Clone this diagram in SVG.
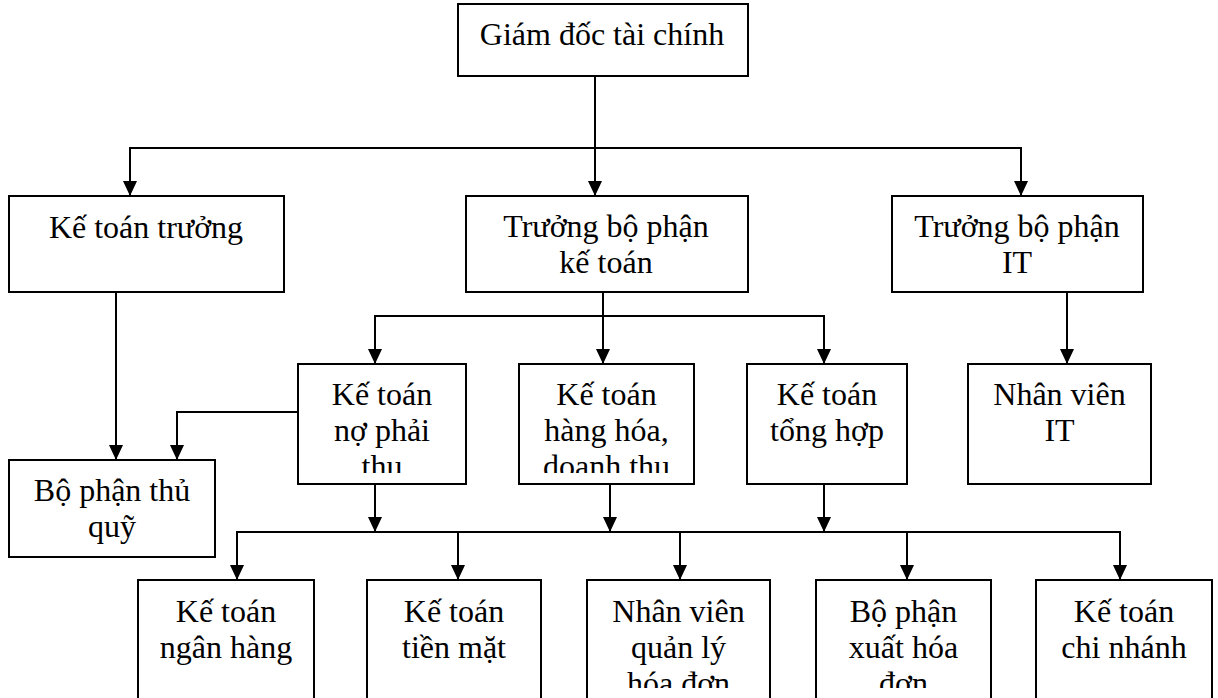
<svg xmlns="http://www.w3.org/2000/svg" width="1218" height="698" viewBox="0 0 1218 698">
<style>
.box{fill:#fff;stroke:#000;stroke-width:2}
.t{font-family:"Liberation Serif","Times New Roman",serif;font-size:32px;fill:#000;text-anchor:middle}
.c{fill:none;stroke:#000;stroke-width:2}
</style>
<defs>
<marker id="ah" markerUnits="userSpaceOnUse" viewBox="0 0 15 14" refX="15" refY="7" markerWidth="15" markerHeight="14" orient="auto">
<path d="M0,0 L15,7 L0,14 z" fill="#000"/>
</marker>
<clipPath id="cm1"><rect x="298" y="364" width="168" height="109"/></clipPath>
<clipPath id="cm2"><rect x="519" y="364" width="175" height="109"/></clipPath>
<clipPath id="cb3"><rect x="587" y="580" width="183" height="108"/></clipPath>
<clipPath id="cb4"><rect x="816" y="580" width="175" height="108"/></clipPath>
</defs>
<rect width="1218" height="698" fill="#fff"/>
<g id="connectors">
<path class="c" d="M595,76 V196" marker-end="url(#ah)"/>
<path class="c" d="M130,196 V148 H1021 V196" marker-end="url(#ah)"/>
<path class="c" d="M130,148 V196" marker-end="url(#ah)"/>
<path class="c" d="M116,292 V460" marker-end="url(#ah)"/>
<path class="c" d="M298,412 H177 V460" marker-end="url(#ah)"/>
<path class="c" d="M603,292 V364" marker-end="url(#ah)"/>
<path class="c" d="M375,364 V316 H824 V364" marker-end="url(#ah)"/>
<path class="c" d="M375,316 V364" marker-end="url(#ah)"/>
<path class="c" d="M1067,292 V364" marker-end="url(#ah)"/>
<path class="c" d="M375,484 V532" marker-end="url(#ah)"/>
<path class="c" d="M610,484 V532" marker-end="url(#ah)"/>
<path class="c" d="M824,484 V532" marker-end="url(#ah)"/>
<path class="c" d="M237,580 V532 H1120 V580" marker-end="url(#ah)"/>
<path class="c" d="M237,532 V580" marker-end="url(#ah)"/>
<path class="c" d="M458,532 V580" marker-end="url(#ah)"/>
<path class="c" d="M680,532 V580" marker-end="url(#ah)"/>
<path class="c" d="M907,532 V580" marker-end="url(#ah)"/>
</g>
<g id="n-giamdoc">
<rect class="box" x="458" y="4" width="290" height="72"/>
<text class="t" x="602" y="45">Giám đốc tài chính</text>
</g>
<g id="n-ketoantruong">
<rect class="box" x="9" y="196" width="275" height="96"/>
<text class="t" x="146" y="238">Kế toán trưởng</text>
</g>
<g id="n-truongbpkt">
<rect class="box" x="466" y="196" width="282" height="96"/>
<text class="t" x="606" y="237">Trưởng bộ phận</text>
<text class="t" x="606" y="273">kế toán</text>
</g>
<g id="n-truongbpit">
<rect class="box" x="892" y="196" width="251" height="96"/>
<text class="t" x="1017" y="237">Trưởng bộ phận</text>
<text class="t" x="1017" y="273">IT</text>
</g>
<g id="n-thuquy">
<rect class="box" x="9" y="460" width="206" height="97"/>
<text class="t" x="112" y="501">Bộ phận thủ</text>
<text class="t" x="112" y="537">quỹ</text>
</g>
<g id="n-nophaithu">
<rect class="box" x="298" y="364" width="168" height="120"/>
<g clip-path="url(#cm1)">
<text class="t" x="382" y="405">Kế toán</text>
<text class="t" x="382" y="441">nợ phải</text>
<text class="t" x="382" y="477">thu</text>
</g>
</g>
<g id="n-hanghoa">
<rect class="box" x="519" y="364" width="175" height="120"/>
<g clip-path="url(#cm2)">
<text class="t" x="606.5" y="405">Kế toán</text>
<text class="t" x="606.5" y="441">hàng hóa,</text>
<text class="t" x="606.5" y="477">doanh thu</text>
</g>
</g>
<g id="n-tonghop">
<rect class="box" x="747" y="364" width="160" height="120"/>
<text class="t" x="827" y="405">Kế toán</text>
<text class="t" x="827" y="441">tổng hợp</text>
</g>
<g id="n-nhanvienit">
<rect class="box" x="968" y="364" width="183" height="120"/>
<text class="t" x="1059.5" y="405">Nhân viên</text>
<text class="t" x="1059.5" y="441">IT</text>
</g>
<g id="n-nganhang">
<rect class="box" x="138" y="580" width="176" height="130"/>
<text class="t" x="226" y="622">Kế toán</text>
<text class="t" x="226" y="658">ngân hàng</text>
</g>
<g id="n-tienmat">
<rect class="box" x="367" y="580" width="174" height="130"/>
<text class="t" x="454" y="622">Kế toán</text>
<text class="t" x="454" y="658">tiền mặt</text>
</g>
<g id="n-quanlyhoadon">
<rect class="box" x="587" y="580" width="183" height="130"/>
<g clip-path="url(#cb3)">
<text class="t" x="678.5" y="622">Nhân viên</text>
<text class="t" x="678.5" y="658">quản lý</text>
<text class="t" x="678.5" y="694">hóa đơn</text>
</g>
</g>
<g id="n-xuathoadon">
<rect class="box" x="816" y="580" width="175" height="130"/>
<g clip-path="url(#cb4)">
<text class="t" x="903.5" y="622">Bộ phận</text>
<text class="t" x="903.5" y="658">xuất hóa</text>
<text class="t" x="903.5" y="694">đơn</text>
</g>
</g>
<g id="n-chinhanh">
<rect class="box" x="1036" y="580" width="176" height="130"/>
<text class="t" x="1124" y="622">Kế toán</text>
<text class="t" x="1124" y="658">chi nhánh</text>
</g>
</svg>
